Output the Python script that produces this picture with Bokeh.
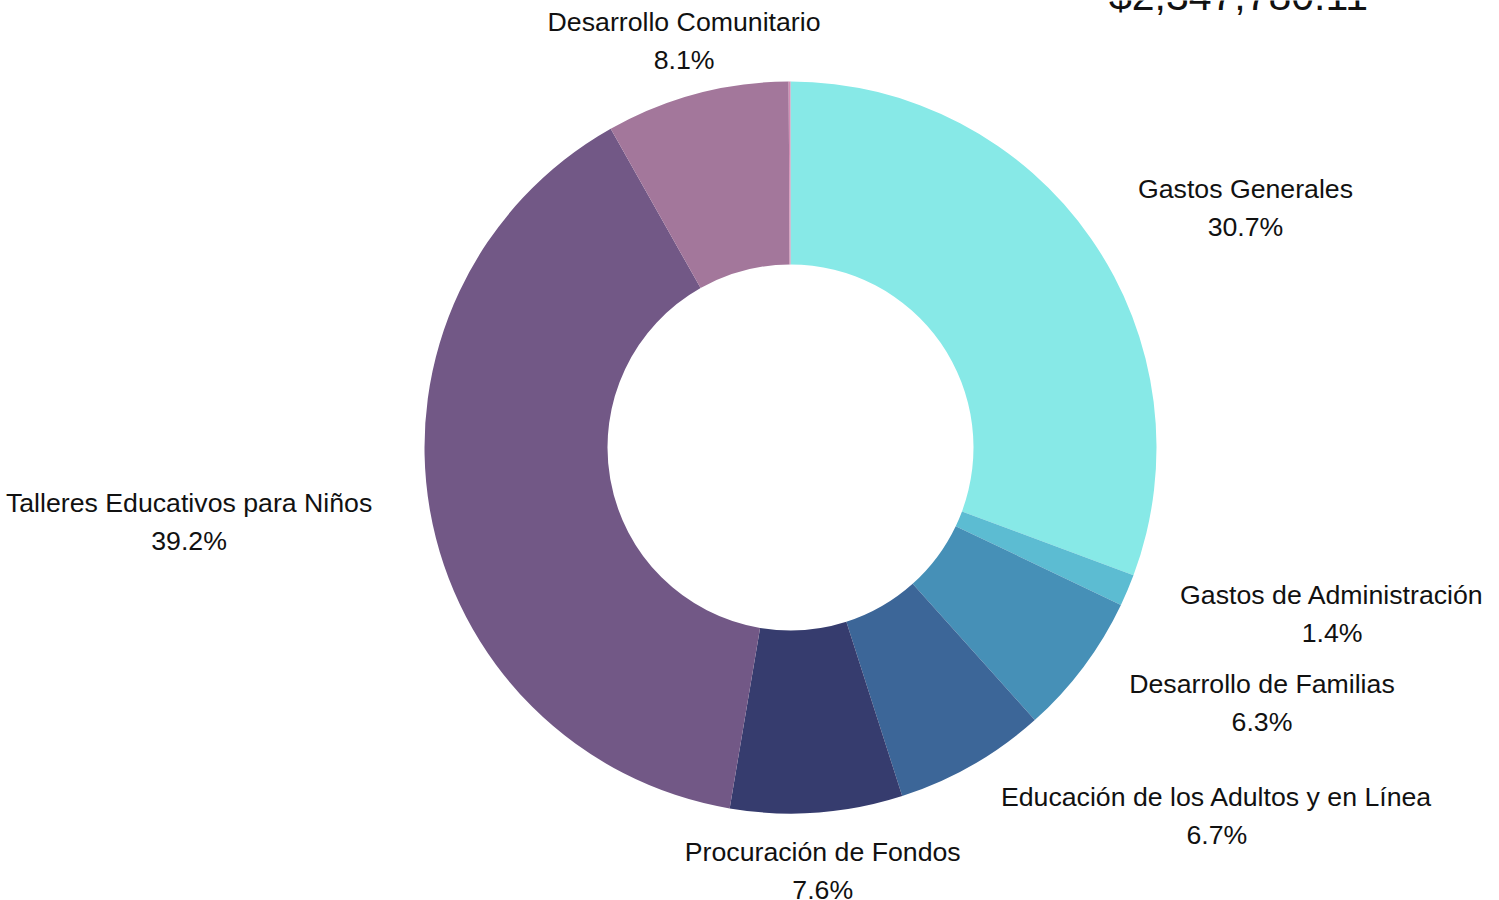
import math
from bokeh.plotting import figure
from bokeh.models import Range1d, ColumnDataSource
from bokeh.core.properties import value
from bokeh.embed import file_html
from bokeh.resources import INLINE

# ---- data ----
categories = [
    "Gastos Generales",
    "Gastos de Administración",
    "Desarrollo de Familias",
    "Educación de los Adultos y en Línea",
    "Procuración de Fondos",
    "Talleres Educativos para Niños",
    "Desarrollo Comunitario",
    "",
]
shares = [30.7, 1.4, 6.3, 6.7, 7.6, 39.2, 8.1, 0.08]
colors = ["#87E9E7", "#5CBCD2", "#4690B7", "#3C6698", "#363C6E", "#725886", "#A3779B", "#D38DB4"]
total_label = "$2,347,780.11"

# ---- geometry (1 data unit = 1 px, donut centre at origin) ----
W, H = 1499, 900
CX, CY = 790, 447          # canvas coordinates of centre
R_OUT, R_IN, R_LAB = 366, 183, 423
FONT = "Liberation Sans"
FS = 26.7

# Arial / Liberation Sans advance widths (1/1000 em) for label layout
_AW = {" ": 278, ".": 278, "%": 889, "ó": 556, "í": 278, "ñ": 556, "á": 556}
for ch in "0123456789":
    _AW[ch] = 556
_AW.update(dict(zip("abcdefghijklmnopqrstuvwxyz",
                    [556, 556, 500, 556, 556, 278, 556, 556, 222, 222, 500, 222, 833,
                     556, 556, 556, 556, 333, 500, 278, 556, 500, 722, 500, 500, 500])))
_AW.update(dict(zip("ABCDEFGHIJKLMNOPQRSTUVWXYZ",
                    [667, 667, 722, 722, 667, 611, 778, 722, 278, 500, 667, 556, 833,
                     722, 778, 667, 778, 722, 667, 611, 722, 667, 944, 667, 667, 611])))


def text_w(s, fs):
    return sum(_AW.get(ch, 556) for ch in s) * fs / 1000.0


p = figure(width=W, height=H, output_backend="svg", toolbar_location=None,
           x_range=Range1d(-CX, W - CX), y_range=Range1d(CY - H, CY),
           min_border=0)
p.axis.visible = False
p.grid.visible = False
p.outline_line_color = None
p.background_fill_color = "white"
p.border_fill_color = "white"

tot = sum(shares)
starts, ends, mids = [], [], []
c = 0.0
for s in shares:
    a0 = math.pi / 2 - 2 * math.pi * c / tot
    c += s
    a1 = math.pi / 2 - 2 * math.pi * c / tot
    starts.append(a0)
    ends.append(a1)
    mids.append((a0 + a1) / 2)

src = ColumnDataSource(dict(x=[0] * len(shares), y=[0] * len(shares),
                            start=starts, end=ends, color=colors))
p.annular_wedge(x="x", y="y", inner_radius=R_IN, outer_radius=R_OUT,
                start_angle="start", end_angle="end", direction="clock",
                fill_color="color", line_color=None, source=src)

lx, ly1, ly2, t1, t2 = [], [], [], [], []
for name, s, m in zip(categories, shares, mids):
    if not name:
        continue
    x = R_LAB * math.cos(m)
    y = R_LAB * math.sin(m)
    cm = math.cos(m)
    w = text_w(name, FS)
    if cm > 0.4:
        x += w / 2
    elif cm < -0.4:
        x -= w / 2
    else:
        x += 2
    lx.append(x)
    ly1.append(y + 17)
    ly2.append(y - 21)
    t1.append(name)
    t2.append(f"{100 * s / tot:.1f}%")

lsrc = ColumnDataSource(dict(x=lx, y1=ly1, y2=ly2, t1=t1, t2=t2))
for yk, tk in (("y1", "t1"), ("y2", "t2")):
    p.text(x="x", y=yk, text=tk, text_align="center", text_baseline="middle",
           text_font=value(FONT), text_font_size=f"{FS}px", text_color="#111111",
           source=lsrc)

p.text(x=[1238 - CX], y=[CY + 5], text=[total_label], text_align="center",
       text_baseline="middle", text_font=value(FONT), text_font_size="41px",
       text_color="#111111")

open("out.html", "w").write(file_html(p, INLINE))
